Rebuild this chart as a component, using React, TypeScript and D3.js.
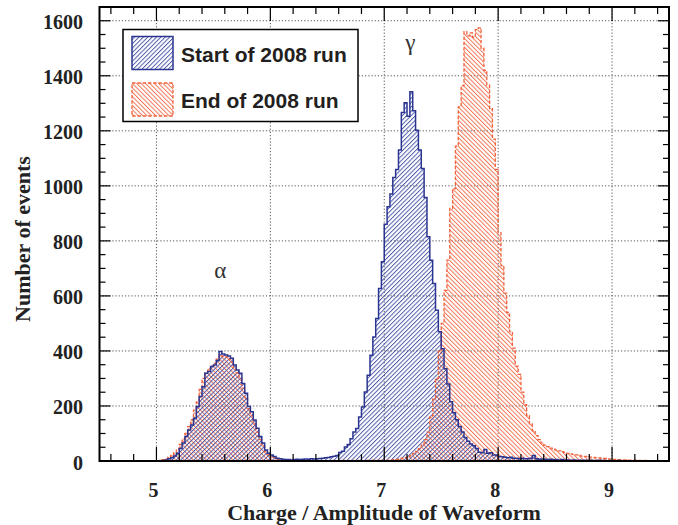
import React, { useEffect } from 'react';
import * as d3 from 'd3';

// ---------- data ----------
// histogram bins: 200 bins of width 0.025 from 4.5 to 9.5
const BIN_START = 4.5;
const BIN_WIDTH = 0.025;

const startOf2008Run: number[] = [
  0, 0, 0, 0, 0, 0, 0, 0, 0, 0,
  0, 0, 0, 0, 0, 0, 0, 0, 0, 0,
  0, 0, 2, 4, 8, 12, 18, 28, 45, 65,
  89, 113, 131, 155, 198, 234, 270, 319, 325, 343,
  349, 365, 398, 389, 385, 382, 373, 349, 331, 319,
  282, 246, 198, 179, 149, 119, 89, 65, 40, 28,
  22, 16, 10, 8, 6, 5, 5, 4, 5, 6,
  5, 6, 7, 6, 8, 7, 8, 9, 10, 12,
  13, 15, 17, 20, 31, 35, 51, 60, 81, 105,
  118, 160, 196, 251, 312, 384, 451, 518, 627, 724,
  860, 924, 970, 1030, 1059, 1130, 1267, 1302, 1253, 1342,
  1273, 1202, 1130, 1063, 958, 815, 730, 645, 548, 470,
  408, 335, 280, 215, 175, 150, 125, 105, 85, 72,
  62, 55, 45, 32, 30, 42, 28, 30, 22, 22,
  16, 15, 14, 12, 14, 10, 10, 8, 10, 8,
  8, 10, 20, 8, 6, 7, 6, 5, 6, 5,
  5, 4, 5, 4, 4, 3, 4, 3, 3, 3,
  3, 2, 3, 2, 2, 3, 2, 2, 1, 2,
  1, 1, 2, 1, 1, 1, 0, 1, 0, 1,
  0, 0, 1, 0, 0, 0, 0, 0, 0, 0,
];

const endOf2008Run: number[] = [
  0, 0, 0, 0, 0, 0, 0, 0, 0, 0,
  0, 0, 0, 0, 0, 0, 0, 0, 0, 0,
  0, 2, 5, 8, 14, 20, 30, 42, 60, 80,
  100, 125, 150, 185, 215, 260, 300, 320, 335, 345,
  355, 370, 385, 380, 378, 370, 360, 340, 320, 300,
  265, 230, 190, 165, 135, 105, 78, 55, 35, 25,
  18, 12, 8, 6, 4, 3, 2, 2, 2, 1,
  1, 2, 1, 1, 2, 1, 1, 2, 1, 1,
  1, 1, 2, 1, 1, 2, 1, 2, 2, 1,
  2, 2, 1, 2, 2, 2, 3, 2, 3, 2,
  2, 3, 4, 5, 6, 8, 10, 12, 16, 20,
  28, 35, 45, 60, 78, 105, 160, 225, 300, 400,
  500, 620, 730, 918, 990, 1144, 1287, 1364, 1560, 1545,
  1556, 1540, 1568, 1574, 1500, 1420, 1366, 1281, 1170, 1060,
  830, 710, 610, 540, 470, 410, 345, 315, 250, 205,
  165, 135, 110, 92, 78, 66, 58, 52, 47, 43,
  40, 37, 34, 31, 28, 26, 24, 22, 20, 18,
  17, 16, 14, 13, 12, 11, 10, 9, 8, 7,
  6, 6, 5, 4, 4, 3, 3, 3, 3, 2,
  2, 2, 1, 1, 1, 0, 1, 0, 0, 0,
];

const xTickValues = [5, 6, 7, 8, 9];
const xTickLabels = ['5', '6', '7', '8', '9'];
const yTickValues = [0, 200, 400, 600, 800, 1000, 1200, 1400, 1600];
const yTickLabels = ['0', '200', '400', '600', '800', '1000', '1200', '1400', '1600'];
const legendLabels = ['Start of 2008 run', 'End of 2008 run'];
const xTitle = 'Charge / Amplitude of Waveform';
const yTitle = 'Number of events';
const peakLabels = [
  { text: 'α', x: 5.56, y: 665 },
  { text: 'γ', x: 7.23, y: 1492 },
];

// ---------- layout ----------
const W = 678;
const H = 525;
const PL = 99.5;
const PR = 669;
const PT = 7;
const PB = 461;

const BLUE = '#2b3590';
const BLUE_HATCH = '#3f4ea6';
const RED = '#f0623d';
const RED_HATCH = '#f26a45';

export default function App() {
  useEffect(() => {
    document.body.style.margin = '0';
  }, []);

  const x = d3.scaleLinear().domain([4.5, 9.5]).range([PL, PR]);
  const y = d3.scaleLinear().domain([0, 1650]).range([PB, PT]);

  const toPoints = (vals: number[]) => {
    const pts: [number, number][] = vals.map((v, i) => [BIN_START + i * BIN_WIDTH, v]);
    pts.push([BIN_START + vals.length * BIN_WIDTH, vals[vals.length - 1]]);
    return pts;
  };

  const line = d3
    .line<[number, number]>()
    .x((d) => x(d[0]))
    .y((d) => y(d[1]))
    .curve(d3.curveStepAfter);
  const area = d3
    .area<[number, number]>()
    .x((d) => x(d[0]))
    .y0(y(0))
    .y1((d) => y(d[1]))
    .curve(d3.curveStepAfter);

  const bluePts = toPoints(startOf2008Run);
  const redPts = toPoints(endOf2008Run);

  const xMinor = d3.range(46, 95, 2).map((v) => v / 10).filter((v) => Math.abs(v - Math.round(v)) > 1e-6);
  const yMinor = d3.range(50, 1650, 50).filter((v) => v % 200 !== 0);

  const gridStyle = { stroke: '#555', strokeWidth: 1, strokeDasharray: '1.2 2' };
  const serif = '"Liberation Serif", "Times New Roman", serif';
  const sans = '"Liberation Sans", Arial, sans-serif';

  return (
    <svg width={W} height={H} style={{ position: 'absolute', left: 0, top: 0, background: '#fff' }}>
      <defs>
        <pattern id="hBlue" patternUnits="userSpaceOnUse" width="3.1" height="10" patternTransform="rotate(45)">
          <line x1="0.5" y1="0" x2="0.5" y2="10" stroke={BLUE_HATCH} strokeWidth="0.9" />
        </pattern>
        <pattern id="hRed" patternUnits="userSpaceOnUse" width="3.1" height="10" patternTransform="rotate(-45)">
          <line x1="0.5" y1="0" x2="0.5" y2="10" stroke={RED_HATCH} strokeWidth="0.9" />
        </pattern>
        <clipPath id="plotClip">
          <rect x={PL} y={PT} width={PR - PL} height={PB - PT} />
        </clipPath>
      </defs>
      <rect x={0} y={0} width={W} height={H} fill="#fff" />

      {/* grid */}
      {xTickValues.map((v) => (
        <line key={'gx' + v} x1={x(v)} x2={x(v)} y1={PT} y2={PB} style={gridStyle} />
      ))}
      {yTickValues.filter((v) => v > 0).map((v) => (
        <line key={'gy' + v} x1={PL} x2={PR} y1={y(v)} y2={y(v)} style={gridStyle} />
      ))}

      {/* histograms */}
      <g clipPath="url(#plotClip)">
        <path d={area(redPts) || ''} fill="url(#hRed)" />
        <path d={area(bluePts) || ''} fill="url(#hBlue)" />
        <path d={line(redPts) || ''} fill="none" stroke={RED} strokeWidth={1.3} strokeDasharray="3.5 1.8" />
        <path d={line(bluePts) || ''} fill="none" stroke={BLUE} strokeWidth={1.5} />
      </g>

      {/* frame */}
      <rect x={PL} y={PT} width={PR - PL} height={PB - PT} fill="none" stroke="#000" strokeWidth={2} />

      {/* ticks */}
      <g stroke="#000" strokeWidth={1.2}>
        {xTickValues.map((v) => (
          <g key={'tx' + v}>
            <line x1={x(v)} x2={x(v)} y1={PB} y2={PB - 14} />
            <line x1={x(v)} x2={x(v)} y1={PT} y2={PT + 14} />
          </g>
        ))}
        {xMinor.map((v) => (
          <g key={'mx' + v}>
            <line x1={x(v)} x2={x(v)} y1={PB} y2={PB - 7} />
            <line x1={x(v)} x2={x(v)} y1={PT} y2={PT + 7} />
          </g>
        ))}
        {yTickValues.map((v) => (
          <g key={'ty' + v}>
            <line x1={PL} x2={PL + 11} y1={y(v)} y2={y(v)} />
            <line x1={PR} x2={PR - 11} y1={y(v)} y2={y(v)} />
          </g>
        ))}
        {yMinor.map((v) => (
          <g key={'my' + v}>
            <line x1={PL} x2={PL + 6} y1={y(v)} y2={y(v)} />
            <line x1={PR} x2={PR - 6} y1={y(v)} y2={y(v)} />
          </g>
        ))}
      </g>

      {/* tick labels */}
      <g fontFamily={serif} fontWeight="bold" fill="#222">
        {xTickValues.map((v, i) => (
          <text key={'lx' + v} x={x(v) - 3} y={497} textAnchor="middle" fontSize={20}>
            {xTickLabels[i]}
          </text>
        ))}
        {yTickValues.map((v, i) => (
          <text key={'ly' + v} x={83} y={y(v) + 8.5} textAnchor="end" fontSize={20}>
            {yTickLabels[i]}
          </text>
        ))}
        <text x={384} y={520} textAnchor="middle" fontSize={22}>
          {xTitle}
        </text>
        <text transform={`translate(30, 239) rotate(-90)`} textAnchor="middle" fontSize={22}>
          {yTitle}
        </text>
      </g>

      {/* peak labels */}
      <g fontFamily={serif} fontSize={23} fill="#333">
        {peakLabels.map((p) => (
          <text key={p.text} x={x(p.x)} y={y(p.y)} textAnchor="middle">
            {p.text}
          </text>
        ))}
      </g>

      {/* legend */}
      <g>
        <rect x={123} y={29.5} width={235} height={92} fill="#fff" stroke="#000" strokeWidth={1.5} />
        <rect x={132} y={36.5} width={41} height={33} fill="url(#hBlue)" stroke={BLUE} strokeWidth={1.5} />
        <rect x={132} y={83} width={41} height={33} fill="url(#hRed)" stroke={RED} strokeWidth={1.3} strokeDasharray="3.5 1.8" />
        <text x={181} y={61.5} fontFamily={sans} fontWeight="bold" fontSize={21} fill="#231f20">
          {legendLabels[0]}
        </text>
        <text x={181} y={107.5} fontFamily={sans} fontWeight="bold" fontSize={21} fill="#231f20">
          {legendLabels[1]}
        </text>
      </g>
    </svg>
  );
}
